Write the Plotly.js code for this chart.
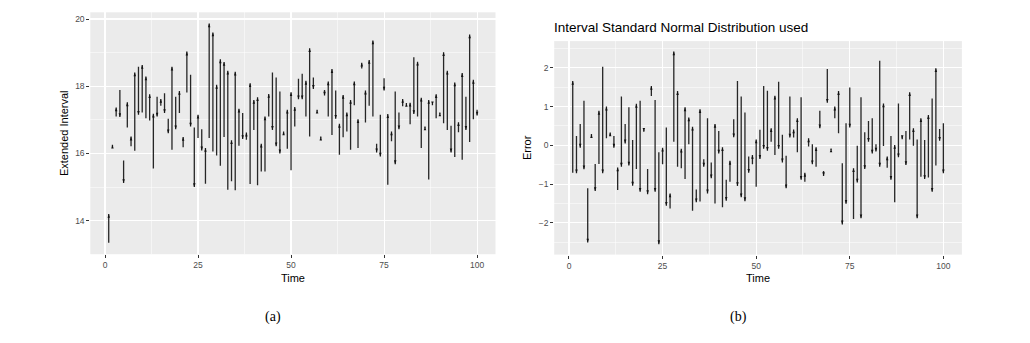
<!DOCTYPE html>
<html>
<head>
<meta charset="utf-8">
<script src="https://cdn.plot.ly/plotly-3.0.1.min.js"></script>
<style>
  body { margin: 0; background: #fff; }
  #plotArea { width: 1030px; height: 343px; }
</style>
</head>
<body>
<div id="plotArea"></div>
<script>
// time index 1..100
var time = [];
for (var i = 1; i <= 100; i++) time.push(i);

// (a) extended interval: start and end of each arrow
var extStart = [13.34, 16.20, 17.10, 17.89, 15.79, 16.77, 16.21, 16.08, 18.58, 17.22,
  17.05, 16.98, 15.55, 17.69, 17.42, 17.79, 17.03, 16.11, 17.69, 17.20,
  16.18, 17.81, 18.34, 16.77, 16.46, 16.72, 15.10, 16.46, 16.06, 15.94,
  15.63, 16.49, 14.92, 15.17, 14.90, 16.23, 17.20, 16.41, 15.09, 16.70,
  15.05, 15.46, 15.46, 17.10, 18.41, 18.26, 17.84, 16.58, 16.14, 15.50,
  16.80, 18.22, 18.37, 17.10, 16.50, 18.26, 17.25, 16.45, 17.89, 17.10,
  16.55, 17.87, 15.96, 16.48, 16.65, 16.11, 17.43, 16.16, 18.53, 16.92,
  17.42, 17.10, 16.29, 17.15, 18.24, 15.07, 16.36, 17.84, 17.22, 17.40,
  17.45, 16.87, 18.86, 17.10, 16.16, 16.75, 15.22, 17.48, 17.05, 17.17,
  16.90, 16.70, 16.82, 15.89, 16.63, 15.81, 17.69, 16.34, 17.02, 17.30];
var extEnd = [14.20, 16.26, 17.37, 17.08, 15.12, 17.52, 16.50, 18.41, 17.15, 18.63,
  18.29, 17.76, 17.18, 17.10, 17.62, 17.20, 16.60, 18.58, 16.72, 17.86,
  16.49, 19.03, 16.80, 15.00, 17.15, 16.09, 16.16, 19.87, 19.60, 18.04,
  18.80, 18.72, 18.46, 16.39, 18.43, 17.33, 16.43, 16.62, 18.09, 17.59,
  17.67, 16.29, 17.10, 17.77, 16.70, 16.21, 16.00, 16.65, 17.30, 17.82,
  17.38, 17.61, 17.61, 18.16, 19.13, 17.92, 17.30, 16.50, 17.72, 18.14,
  18.51, 17.03, 16.88, 17.74, 17.22, 17.59, 18.14, 17.02, 18.70, 17.87,
  18.78, 19.36, 16.03, 15.91, 17.87, 17.17, 16.65, 15.68, 16.72, 17.62,
  17.50, 17.51, 17.17, 18.73, 17.66, 16.80, 17.59, 17.43, 17.76, 17.22,
  19.01, 18.46, 16.03, 18.11, 16.93, 18.39, 16.70, 19.54, 18.19, 17.13];

// (b) error: start and end of each arrow
var errStart = [-0.71, 0.24, 0.55, 1.15, -1.11, 0.24, -0.48, -0.48, 2.03, 0.18,
  0.26, 0.24, -1.15, 1.26, 0.55, 0.98, 0.14, -0.61, 1.15, 0.40,
  -0.61, 1.27, 1.17, -0.18, -0.49, 0.46, -1.63, 0.09, -0.55, -0.59,
  -0.87, 0.03, -1.69, -1.14, -1.45, -0.36, 0.70, -0.44, -1.50, 0.37,
  -1.60, -0.89, -0.94, 0.67, 1.66, 1.26, 0.85, -0.29, -0.49, -1.07,
  0.40, 1.53, 1.41, 0.09, -0.25, 1.64, 0.27, -0.27, 1.26, 0.20,
  -0.18, 1.24, -0.94, -0.03, 0.03, -0.55, 0.89, -0.66, 1.97, -0.12,
  0.70, 0.31, -0.46, 0.57, 1.49, -1.90, -0.01, 1.24, 0.34, 0.63,
  0.70, 0.03, 2.18, -0.02, -0.58, 0.24, -1.47, 1.08, 0.22, 0.37,
  0.15, -0.01, 0.15, -0.81, 0.14, -0.83, 1.21, -0.52, 0.42, 0.57];
var errEnd = [1.66, -0.72, -0.06, -0.62, -2.51, 0.29, -1.18, 0.89, -0.72, 1.00,
  0.33, -0.06, -0.57, -0.55, 0.05, -0.52, -1.04, 1.07, -1.20, 0.35,
  -1.26, 1.53, -1.20, -2.55, -0.06, -1.56, -1.24, 2.42, 1.40, -0.09,
  0.98, 0.72, 0.48, -1.47, 0.93, -0.55, -1.24, -0.85, 0.55, -0.21,
  -0.05, -1.43, -0.40, 0.21, -1.05, -1.34, -1.44, -0.71, -0.25, 0.15,
  -0.35, -0.09, -0.14, 0.44, 1.28, -0.09, -0.44, -1.11, 0.20, 0.41,
  0.70, -0.89, -0.71, 0.18, -0.49, -0.05, 0.44, -0.79, 1.10, -0.08,
  1.00, 1.40, -2.04, -1.51, 0.46, -0.59, -0.96, -1.88, -0.61, 0.09,
  -0.21, -0.16, -0.55, 1.08, -0.29, -0.89, 0.01, -0.31, 0.16, -0.51,
  1.37, 0.44, -1.88, 0.70, -0.87, 0.78, -1.20, 1.99, 0.12, -0.72];

var xTicks = [0, 25, 50, 75, 100];

function arrowTraces(starts, ends, xa, ya) {
  var lx = [], ly = [];
  for (var i = 0; i < time.length; i++) {
    lx.push(time[i], time[i], null);
    ly.push(starts[i], ends[i], null);
  }
  var seg = {
    x: lx, y: ly, xaxis: xa, yaxis: ya,
    mode: "lines", type: "scatter", hoverinfo: "skip",
    line: {color: "#262626", width: 1.3}
  };
  var heads = {
    x: time, y: ends, xaxis: xa, yaxis: ya,
    mode: "markers", type: "scatter", hoverinfo: "skip",
    marker: {
      symbol: "arrow", size: 4, color: "#111",
      angle: ends.map(function(e, i) { return e >= starts[i] ? 0 : 180; }),
      line: {width: 0}
    }
  };
  return [seg, heads];
}

var data = arrowTraces(extStart, extEnd, "x", "y")
  .concat(arrowTraces(errStart, errEnd, "x2", "y2"));

var tickFont = {family: "Liberation Sans, Arial, sans-serif", size: 8.5, color: "#4d4d4d"};
var titleFont = {family: "Liberation Sans, Arial, sans-serif", size: 11, color: "#000"};
var capFont = {family: "Liberation Serif, Times New Roman, serif", size: 14, color: "#000"};

function xAxis(dom, anchor) {
  return {
    domain: dom, anchor: anchor, range: [-3.95, 104.95], tickvals: xTicks,
    showgrid: true, gridcolor: "#fff", gridwidth: 1.1, zeroline: false,
    minor: {dtick: 12.5, tick0: 0, showgrid: true, gridcolor: "#fff", gridwidth: 0.5, ticklen: 0},
    ticks: "outside", ticklen: 3, tickcolor: "#333", tickwidth: 1,
    tickfont: tickFont, automargin: false,
    title: {text: "Time", font: titleFont, standoff: 4}
  };
}

function yAxis(dom, anchor, range, ticks, minorStep, label) {
  return {
    domain: dom, anchor: anchor, range: range, tickvals: ticks,
    showgrid: true, gridcolor: "#fff", gridwidth: 1.1, zeroline: false,
    minor: {dtick: minorStep, tick0: 0, showgrid: true, gridcolor: "#fff", gridwidth: 0.5, ticklen: 0},
    ticks: "outside", ticklen: 3, tickcolor: "#333", tickwidth: 1,
    tickfont: tickFont, automargin: false,
    title: {text: label, font: titleFont, standoff: 4}
  };
}

var layout = {
  width: 1030, height: 343, autosize: false,
  margin: {l: 0, r: 0, t: 0, b: 0},
  paper_bgcolor: "#fff", plot_bgcolor: "#ebebeb",
  showlegend: false,
  font: {family: "Liberation Sans, Arial, sans-serif"},
  title: {
    text: "Interval Standard Normal Distribution used",
    font: {family: "Liberation Sans, Arial, sans-serif", size: 13.5, color: "#000"},
    xref: "paper", x: 554 / 1030, xanchor: "left",
    yref: "container", y: 1 - 27 / 343, yanchor: "middle"
  },
  xaxis: xAxis([90.3 / 1030, 495.5 / 1030], "y"),
  yaxis: yAxis([1 - 254.2 / 343, 1 - 12.3 / 343], "x", [13.0, 20.2], [14, 16, 18, 20], 1, "Extended Interval"),
  xaxis2: xAxis([554.2 / 1030, 961.9 / 1030], "y2"),
  yaxis2: yAxis([1 - 254.6 / 343, 1 - 41.1 / 343], "x2", [-2.82, 2.69], [-2, -1, 0, 1, 2], 0.5, "Error"),
  annotations: [
    {text: "(a)", xref: "paper", yref: "paper", x: 273 / 1030, y: 1 - 317 / 343,
     xanchor: "center", yanchor: "middle", showarrow: false, font: capFont},
    {text: "(b)", xref: "paper", yref: "paper", x: 738 / 1030, y: 1 - 317 / 343,
     xanchor: "center", yanchor: "middle", showarrow: false, font: capFont}
  ]
};

Plotly.newPlot("plotArea", data, layout, {displayModeBar: false, staticPlot: true});
</script>
</body>
</html>
